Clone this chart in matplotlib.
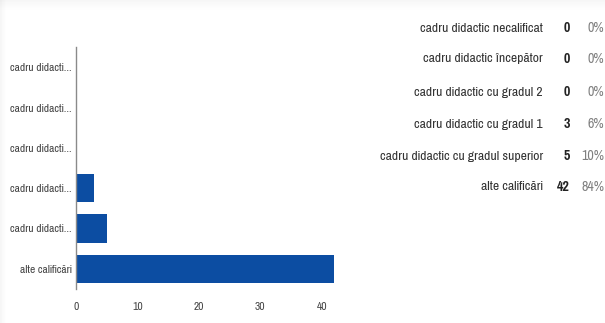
import matplotlib
matplotlib.use("Agg")
import matplotlib.pyplot as plt
from matplotlib import font_manager
from matplotlib.patches import Rectangle

# Response counts per qualification
categories = [
    "cadru didactic necalificat",
    "cadru didactic începător",
    "cadru didactic cu gradul 2",
    "cadru didactic cu gradul 1",
    "cadru didactic cu gradul superior",
    "alte calificări",
]
tick_labels = [
    "cadru didacti...",
    "cadru didacti...",
    "cadru didacti...",
    "cadru didacti...",
    "cadru didacti...",
    "alte calificări",
]
counts = [0, 0, 0, 3, 5, 42]
percents = ["0%", "0%", "0%", "6%", "10%", "84%"]
x_ticks = [0, 10, 20, 30, 40]

names = {f.name for f in font_manager.fontManager.ttflist}
narrow = "DejaVu Sans"
for cand in ["Arial Narrow", "Liberation Sans Narrow", "Pragati Narrow", "PT Sans Narrow",
             "Archivo Narrow", "Roboto Condensed", "Asap Condensed"]:
    if cand in names:
        narrow = cand
        break
plt.rcParams["font.family"] = [narrow, "DejaVu Sans"]

W, H = 605, 323
fig = plt.figure(figsize=(W / 100, H / 100), dpi=100)
fig.patch.set_facecolor("white")

# soft card shadow along the top and left edges
for i, a in enumerate([0.035, 0.03, 0.025, 0.02, 0.015, 0.01, 0.006, 0.003]):
    fig.patches.append(Rectangle((0, 1 - (i + 1) / H * 1.2), 1, 1.2 / H, transform=fig.transFigure,
                                 facecolor="black", alpha=a, edgecolor="none"))
    fig.patches.append(Rectangle((i * 0.75 / W, 0), 0.75 / W, 1, transform=fig.transFigure,
                                 facecolor="black", alpha=a, edgecolor="none"))


def px_box(x0, y0, x1, y1):
    return [x0 / W, 1 - y1 / H, (x1 - x0) / W, (y1 - y0) / H]


ax = fig.add_axes(px_box(76, 47, 334, 289))
ax.set_facecolor("none")
ypos = list(range(len(categories)))
ax.barh(ypos, counts, height=0.7, color="#0c4da2", zorder=2)
ax.set_ylim(len(categories) - 0.5, -0.5)
ax.set_xlim(0, 42)
ax.set_yticks(ypos)
ax.set_yticklabels(tick_labels)
ax.set_xticks(x_ticks)
ax.set_xticklabels([str(t) for t in x_ticks])
for s in ["top", "right", "bottom"]:
    ax.spines[s].set_visible(False)
ax.spines["left"].set_color("#8a8a8a")
ax.spines["left"].set_linewidth(1.0)
ax.spines["left"].set_zorder(3)
ax.tick_params(axis="both", length=0, labelsize=9, colors="#444444")
ax.tick_params(axis="y", pad=3)
ax.tick_params(axis="x", pad=9)

# summary table at right
row_y = [28, 59, 92, 124, 156, 187]
for name, c, p, y in zip(categories, counts, percents, row_y):
    fy = 1 - y / H
    fig.text(543 / W, fy, name, ha="right", va="center", fontsize=10.7, color="#333333")
    fig.text(570 / W, fy, str(c), ha="right", va="center", fontsize=11, color="#222222",
             fontweight="bold")
    fig.text(604 / W, fy, p, ha="right", va="center", fontsize=11, color="#808080")

fig.savefig("out.png", dpi=100)
